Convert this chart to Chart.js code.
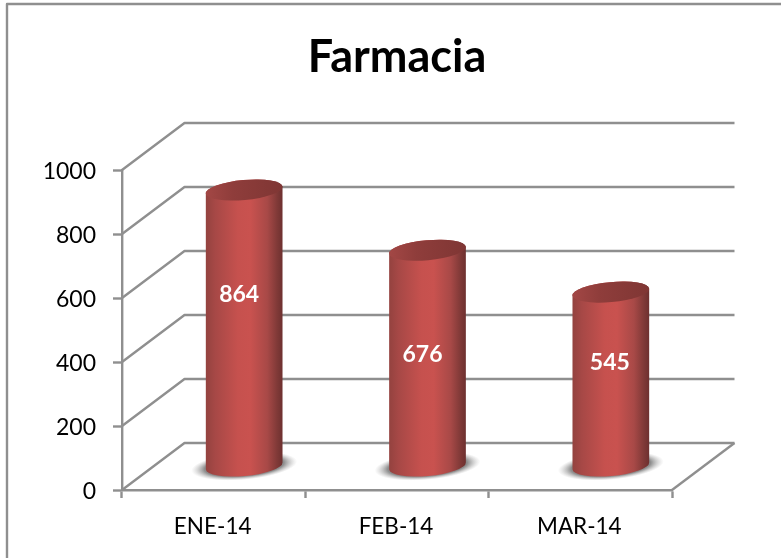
<!DOCTYPE html>
<html><head><meta charset="utf-8">
<style>html,body{margin:0;padding:0;background:#fff}canvas{display:block}</style>
<script src="https://cdn.jsdelivr.net/npm/chart.js@4"></script></head>
<body><canvas id="c" width="781" height="558"></canvas>
<script>
const categories = ["ENE-14", "FEB-14", "MAR-14"];
const farmacia = [864, 676, 545];
const yTicks = [0, 200, 400, 600, 800, 1000];
const chartTitle = "Farmacia";

const FONT = "Lato, Carlito, sans-serif";
const GRAY = "#8f8f8f";
const DEPTH = {x: 62.5, y: -47};
const BAR_SHIFT = {x: 30.5, y: -23.5};
const LABEL_SHIFT = [{x:-5, y:105}, {x:-5, y:104}, {x:-1, y:70}];
const TILT = -0.09, RY = 10;

function cylGradient(ctx, x0, x1, stops){
  const g = ctx.createLinearGradient(x0,0,x1,0);
  stops.forEach(s=>g.addColorStop(s[0],s[1]));
  return g;
}
const scene = {
  id:"scene",
  beforeDatasetsDraw(chart){
    const {ctx, scales:{x,y}} = chart, a = chart.chartArea;
    ctx.save();
    ctx.strokeStyle = GRAY; ctx.lineWidth = 2.4; ctx.lineJoin="round";
    ctx.beginPath(); ctx.moveTo(7,558); ctx.lineTo(7,4); ctx.lineTo(781,4); ctx.stroke();
    yTicks.forEach(v=>{
      const p = y.getPixelForValue(v);
      ctx.beginPath();
      ctx.moveTo(a.left,p);
      ctx.lineTo(a.left+DEPTH.x,p+DEPTH.y);
      ctx.lineTo(a.right+DEPTH.x,p+DEPTH.y);
      ctx.stroke();
    });
    ctx.beginPath();
    ctx.moveTo(a.right,a.bottom);
    ctx.lineTo(a.right+DEPTH.x,a.bottom+DEPTH.y);
    ctx.stroke();
    ctx.restore();
  },
  beforeDatasetDraw(chart,args){
    const {ctx} = chart;
    const meta = chart.getDatasetMeta(args.index);
    meta.data.forEach(b=>{
      const cx = b.x+BAR_SHIFT.x, top = b.y+BAR_SHIFT.y, base = b.base+BAR_SHIFT.y, rx = b.width/2;
      ctx.save();
      ctx.translate(cx,base);
      ctx.rotate(TILT);
      ctx.scale(1,0.26);
      const R = rx*1.38;
      const sh = ctx.createRadialGradient(0,0,R*0.55,0,0,R);
      sh.addColorStop(0,"rgba(75,75,75,.85)");
      sh.addColorStop(0.45,"rgba(95,95,95,.7)");
      sh.addColorStop(1,"rgba(170,170,170,0)");
      ctx.fillStyle = sh;
      ctx.beginPath(); ctx.arc(0,0,R,0,Math.PI*2); ctx.fill();
      ctx.restore();
      ctx.save();
      ctx.fillStyle = cylGradient(ctx,cx-rx,cx+rx,[[0,"#93423f"],[0.12,"#a64846"],[0.42,"#c6514e"],[0.58,"#c9524f"],[0.8,"#a84947"],[0.93,"#7f3937"],[1,"#6d302f"]]);
      ctx.beginPath();
      ctx.ellipse(cx,top,rx,RY,TILT,Math.PI,0,false);
      ctx.ellipse(cx,base,rx,RY,TILT,0,Math.PI,false);
      ctx.closePath();
      ctx.fill();
      ctx.fillStyle = cylGradient(ctx,cx-rx,cx+rx,[[0,"#a34745"],[0.35,"#8f3d3b"],[1,"#7f3634"]]);
      ctx.beginPath();
      ctx.ellipse(cx,top,rx,RY,TILT,0,Math.PI*2);
      ctx.fill();
      ctx.restore();
    });
    return false;
  },
  afterDatasetsDraw(chart){
    const {ctx} = chart;
    const meta = chart.getDatasetMeta(0);
    ctx.save();
    ctx.fillStyle="#fff"; ctx.font="bold 23px "+FONT;
    ctx.textAlign="center"; ctx.textBaseline="middle";
    meta.data.forEach((b,i)=>{
      ctx.fillText(String(farmacia[i]), b.x+BAR_SHIFT.x+LABEL_SHIFT[i].x, b.y+BAR_SHIFT.y+LABEL_SHIFT[i].y);
    });
    ctx.restore();
  }
};

new Chart(document.getElementById("c"),{
  type:"bar",
  data:{labels:categories,datasets:[{label:chartTitle,data:farmacia,backgroundColor:"#c0504d",barPercentage:0.42,categoryPercentage:1}]},
  plugins:[scene],
  options:{
    responsive:false,animation:false,devicePixelRatio:1,
    layout:{padding:{left:0,right:109,top:0,bottom:0}},
    plugins:{
      legend:{display:false},tooltip:{enabled:false},
      title:{display:true,text:chartTitle,color:"#000",fullSize:false,
        font:{family:FONT,size:45,weight:"bold",lineHeight:1.2},
        padding:{top:30,bottom:86}}
    },
    scales:{
      x:{
        afterFit(s){s.height=68;},
        border:{color:GRAY,width:2.4},
        grid:{offset:true,drawOnChartArea:false,drawTicks:true,tickLength:8,tickColor:GRAY,tickWidth:2.4,color:GRAY},
        ticks:{color:"#000",font:{family:FONT,size:22.5},padding:15,maxRotation:0,labelOffset:-1}
      },
      y:{
        min:0,max:1000,
        afterFit(s){s.width=122;},
        afterBuildTicks(s){s.ticks=yTicks.map(v=>({value:v}));},
        border:{color:GRAY,width:2.4},
        grid:{drawOnChartArea:false,drawTicks:true,tickLength:9,tickColor:GRAY,tickWidth:2.4,color:GRAY},
        ticks:{color:"#000",font:{family:FONT,size:23},padding:17,labelOffset:1.5,callback:v=>String(v)}
      }
    }
  }
});
</script></body></html>
